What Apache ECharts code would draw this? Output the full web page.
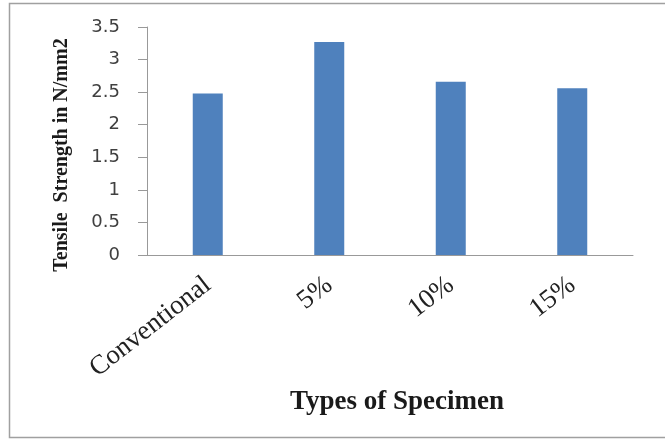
<!DOCTYPE html>
<html>
<head>
<meta charset="utf-8">
<script src="https://cdn.jsdelivr.net/npm/echarts@6/dist/echarts.min.js"></script>
<style>html,body{margin:0;padding:0;background:#fff;}#c{width:665px;height:440px;}</style>
</head>
<body>
<div id="c"></div>
<script>
const categories = ['Conventional', '5%', '10%', '15%'];
const strengthValues = [2.48, 3.27, 2.66, 2.56];
const yTicks = [0, 0.5, 1, 1.5, 2, 2.5, 3, 3.5];

const chart = echarts.init(document.getElementById('c'));
chart.setOption({
  animation: false,
  graphic: [{
    type: 'rect',
    shape: { x: 9.5, y: 3.5, width: 700, height: 434 },
    style: { fill: 'none', stroke: '#a0a0a0', lineWidth: 1.5 },
    silent: true
  }],
  grid: { left: 147, right: 32, top: 27, bottom: 185 },
  xAxis: {
    type: 'category',
    data: categories,
    name: 'Types of Specimen',
    nameLocation: 'middle',
    nameGap: 134,
    nameTextStyle: { fontFamily: 'Liberation Serif', fontWeight: 'bold', fontSize: 27, color: '#1a1a1a', padding: [0, 0, 0, 14] },
    axisLine: { lineStyle: { color: '#999', width: 1 } },
    axisTick: { show: false },
    axisLabel: { rotate: 38, interval: 0, margin: 27, fontFamily: 'Liberation Serif', fontSize: 27, color: '#222' }
  },
  yAxis: {
    type: 'value',
    min: yTicks[0],
    max: yTicks[yTicks.length - 1],
    interval: 0.5,
    name: 'Tensile  Strength in N/mm2',
    nameLocation: 'middle',
    nameGap: 75,
    nameTextStyle: { fontFamily: 'Liberation Serif', fontWeight: 'bold', fontSize: 20, color: '#1a1a1a', padding: [0, 28, 0, 0] },
    axisLine: { show: true, lineStyle: { color: '#999', width: 1 } },
    axisTick: { show: true, length: 9, lineStyle: { color: '#999' } },
    splitLine: { show: false },
    axisLabel: { margin: 27, fontFamily: 'DejaVu Sans', fontSize: 18, color: '#404040' }
  },
  series: [{
    type: 'bar',
    data: strengthValues,
    barWidth: 30,
    itemStyle: { color: '#4F81BD' }
  }]
});
</script>
</body>
</html>
